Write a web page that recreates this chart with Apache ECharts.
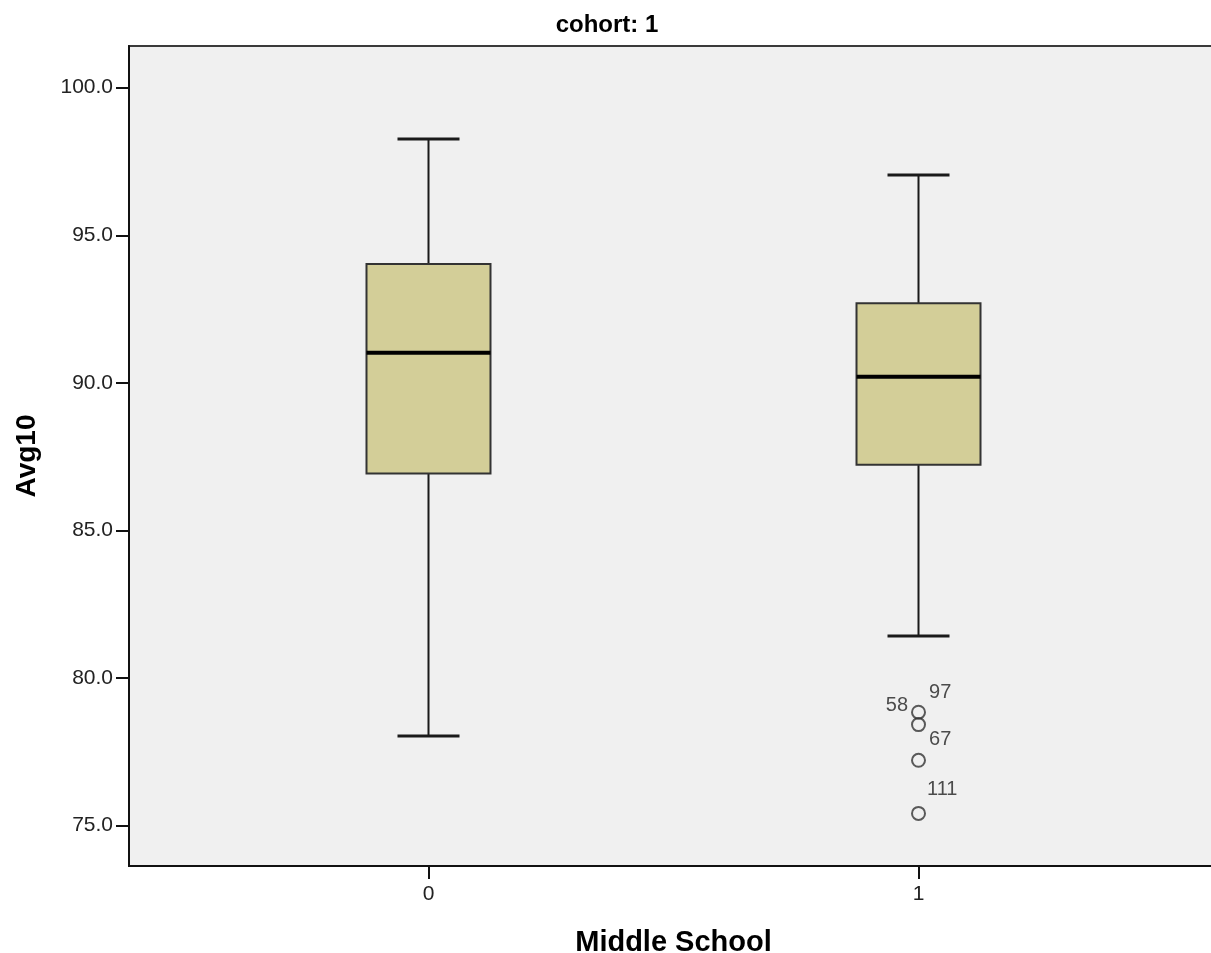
<!DOCTYPE html>
<html>
<head>
<meta charset="utf-8">
<script src="https://cdn.jsdelivr.net/npm/echarts@6/dist/echarts.min.js"></script>
<style>
  html, body { margin: 0; padding: 0; background: #ffffff; }
  #chart { width: 1211px; height: 953px; }
</style>
</head>
<body>
<div id="chart"></div>
<script>
// ---- data ----
const categories = ['0', '1'];
const whiskerLow = [78.03, 81.42];
const q1 = [86.93, 87.22];
const median = [91.02, 90.21];
const q3 = [94.03, 92.70];
const whiskerHigh = [98.26, 97.04];
const outlierCategory = [1, 1, 1, 1];
const outlierValues = [78.84, 78.42, 77.21, 75.41];
const outlierIds = ['97', '58', '67', '111'];
const yTicks = [75, 80, 85, 90, 95, 100];
const xTicks = [0, 1];

// ---- styling / layout (not data) ----
const FONT = '"Liberation Sans", Arial, sans-serif';
const BOX_HALF = 62;   // px
const CAP_HALF = 31;   // px
const outlierLabelLayout = [
  { position: 'right', distance: 3, offset: [0, -20] },
  { position: 'left', distance: 3, offset: [0, -19.5] },
  { position: 'right', distance: 3, offset: [0, -21] },
  { position: 'right', distance: 1, offset: [0, -24] }
];

const chart = echarts.init(document.getElementById('chart'), null, { renderer: 'canvas' });

const boxData = categories.map((c, i) => [i, whiskerLow[i], q1[i], median[i], q3[i], whiskerHigh[i]]);

const outlierData = outlierValues.map((v, i) => ({
  value: [outlierCategory[i], v],
  name: outlierIds[i],
  label: Object.assign({ show: true, formatter: '{b}' }, outlierLabelLayout[i])
}));

function renderBox(params, api) {
  const x = api.value(0);
  const pLow = api.coord([x, api.value(1)]);
  const pQ1 = api.coord([x, api.value(2)]);
  const pMed = api.coord([x, api.value(3)]);
  const pQ3 = api.coord([x, api.value(4)]);
  const pHigh = api.coord([x, api.value(5)]);
  const cx = pMed[0];
  const stemStyle = { stroke: '#1a1a1a', lineWidth: 2 };
  const capStyle = { stroke: '#1a1a1a', lineWidth: 3 };
  return {
    type: 'group',
    children: [
      { type: 'line', shape: { x1: cx, y1: pQ3[1], x2: cx, y2: pHigh[1] }, style: stemStyle },
      { type: 'line', shape: { x1: cx, y1: pQ1[1], x2: cx, y2: pLow[1] }, style: stemStyle },
      { type: 'line', shape: { x1: cx - CAP_HALF, y1: pHigh[1], x2: cx + CAP_HALF, y2: pHigh[1] }, style: capStyle },
      { type: 'line', shape: { x1: cx - CAP_HALF, y1: pLow[1], x2: cx + CAP_HALF, y2: pLow[1] }, style: capStyle },
      { type: 'rect', shape: { x: cx - BOX_HALF, y: pQ3[1], width: 2 * BOX_HALF, height: pQ1[1] - pQ3[1] },
        style: { fill: '#d3ce98', stroke: '#333333', lineWidth: 2 } },
      { type: 'line', shape: { x1: cx - BOX_HALF, y1: pMed[1], x2: cx + BOX_HALF, y2: pMed[1] },
        style: { stroke: '#000000', lineWidth: 4 } }
    ]
  };
}

const option = {
  backgroundColor: '#ffffff',
  animation: false,
  graphic: [{
    type: 'text',
    style: {
      x: 607, y: 25, text: 'cohort: 1', fill: '#000',
      font: 'bold 24px ' + FONT, textAlign: 'center', textVerticalAlign: 'middle'
    }
  }],
  grid: {
    left: 129, top: 46, width: 1089, bottom: 87,
    outerBoundsMode: 'none', containLabel: false,
    show: true, backgroundColor: '#f0f0f0', borderColor: '#3a3a3a', borderWidth: 2
  },
  xAxis: {
    type: 'value',
    min: -0.6112, max: 1.6112,
    name: 'Middle School',
    nameLocation: 'middle',
    nameGap: 62,
    nameTextStyle: { fontFamily: FONT, fontWeight: 'bold', fontSize: 29, color: '#000' },
    axisLine: { show: true, onZero: false, lineStyle: { color: '#111', width: 2 } },
    axisTick: { show: true, customValues: xTicks, length: 13, lineStyle: { color: '#111', width: 2 } },
    axisLabel: {
      customValues: xTicks, margin: 18,
      formatter: v => categories[Math.round(v)],
      fontFamily: FONT, fontSize: 21, color: '#222'
    },
    splitLine: { show: false }
  },
  yAxis: {
    type: 'value',
    min: 73.628, max: 101.413,
    name: 'Avg10',
    nameLocation: 'middle',
    nameGap: 88,
    nameTextStyle: { fontFamily: FONT, fontWeight: 'bold', fontSize: 28, color: '#000' },
    axisLine: { show: true, onZero: false, lineStyle: { color: '#111', width: 2 } },
    axisTick: { show: true, customValues: yTicks, length: 13, lineStyle: { color: '#111', width: 2 } },
    axisLabel: {
      customValues: yTicks, margin: 16,
      formatter: v => v.toFixed(1),
      fontFamily: FONT, fontSize: 21, color: '#222'
    },
    splitLine: { show: false }
  },
  series: [
    {
      type: 'custom',
      renderItem: renderBox,
      data: boxData,
      encode: { x: 0, y: [1, 2, 3, 4, 5] },
      clip: false
    },
    {
      type: 'scatter',
      data: outlierData,
      symbol: 'circle',
      symbolSize: 13,
      itemStyle: { color: 'rgba(0,0,0,0)', borderColor: '#333', borderWidth: 2 },
      label: { fontFamily: FONT, fontSize: 20, color: '#222' },
      emphasis: { disabled: true }
    }
  ]
};

chart.setOption(option);
</script>
</body>
</html>
